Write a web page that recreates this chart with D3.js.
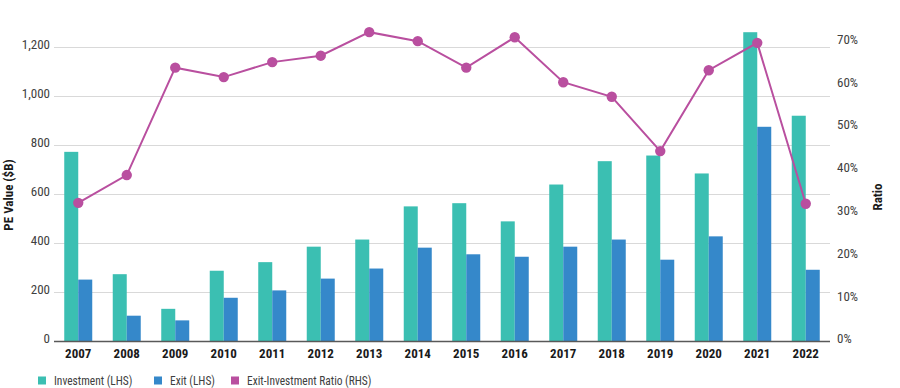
<!DOCTYPE html>
<html><head><meta charset="utf-8">
<script src="https://cdn.jsdelivr.net/npm/d3@7"></script>
<style>
body{margin:0;background:#fff;}
svg{display:block;}
text{font-family:"Liberation Sans Narrow","Roboto Condensed","Arial Narrow","Roboto",sans-serif;}
</style></head>
<body><svg id="c" width="900" height="388"></svg>
<script>
const years = ["2007","2008","2009","2010","2011","2012","2013","2014","2015","2016","2017","2018","2019","2020","2021","2022"];
const investment = [772, 274, 133, 288, 323, 386, 415, 550, 563, 489, 639, 734, 757, 684, 1259, 919];
const exitValues = [252, 105, 86, 178, 208, 256, 297, 382, 355, 345, 386, 415, 333, 428, 874, 292];
const ratio = [0.324, 0.389, 0.640, 0.618, 0.653, 0.668, 0.723, 0.702, 0.640, 0.711, 0.606, 0.572, 0.445, 0.634, 0.698, 0.322];
const leftTicks = [0, 200, 400, 600, 800, 1000, 1200];
const rightTicks = [0, 0.1, 0.2, 0.3, 0.4, 0.5, 0.6, 0.7];
const legendLabels = ["Investment (LHS)", "Exit (LHS)", "Exit-Investment Ratio (RHS)"];

const colors = {inv:"#3bbfb2", exit:"#3588ca", ratio:"#b94f9f"};
const svg = d3.select("#c");
const L = 54, R = 830, B = 341.5;

const x = d3.scaleBand().domain(years).range([L, R]).paddingInner(0.4227).paddingOuter(0.2113);
const xs = d3.scaleBand().domain(["inv","exit"]).range([0, x.bandwidth()]);
const y = d3.scaleLinear().domain([0, 1200]).range([B, 46.7]);
const y2 = d3.scaleLinear().domain([0, 0.7]).range([B, 42]);

// gridlines
svg.append("g").selectAll("line").data(leftTicks.slice(1)).join("line")
  .attr("x1", L).attr("x2", R)
  .attr("y1", d => Math.round(y(d)) + 0.5).attr("y2", d => Math.round(y(d)) + 0.5)
  .attr("stroke", "#d9d9d9").attr("stroke-width", 1);

// left axis
const gl = svg.append("g").attr("transform", `translate(${L - 4},0)`)
  .call(d3.axisLeft(y).tickValues(leftTicks).tickSize(0).tickPadding(0).tickFormat(d3.format(",")));
gl.select(".domain").remove();
gl.selectAll("text").attr("font-size", 13).attr("fill", "#404040").attr("dy", "0.1em");

// right axis
const gr = svg.append("g").attr("transform", `translate(${R + 7},0)`)
  .call(d3.axisRight(y2).tickValues(rightTicks).tickSize(0).tickPadding(0).tickFormat(d3.format(".0%")));
gr.select(".domain").remove();
gr.selectAll("text").attr("font-size", 13).attr("fill", "#404040").attr("dy", "0.1em");

// bars
const g = svg.append("g");
const grp = g.selectAll("g").data(years).join("g").attr("transform", d => `translate(${x(d)},0)`);
grp.append("rect").attr("x", xs("inv")).attr("width", xs.bandwidth())
  .attr("y", (d, i) => y(investment[i])).attr("height", (d, i) => B - y(investment[i]))
  .attr("fill", colors.inv);
grp.append("rect").attr("x", xs("exit")).attr("width", xs.bandwidth())
  .attr("y", (d, i) => y(exitValues[i])).attr("height", (d, i) => B - y(exitValues[i]))
  .attr("fill", colors.exit);

// baseline
svg.append("line").attr("x1", L).attr("x2", R).attr("y1", B).attr("y2", B)
  .attr("stroke", "#595959").attr("stroke-width", 1.5);

// x axis labels
const gx = svg.append("g").attr("transform", `translate(0,${B})`)
  .call(d3.axisBottom(x).tickSize(0).tickPadding(7));
gx.select(".domain").remove();
gx.selectAll("text").attr("font-size", 13).attr("font-weight", "bold").attr("fill", "#1a1a1a");

// ratio line
const cx = d => x(d) + x.bandwidth() / 2;
const line = d3.line().x((d, i) => cx(years[i])).y(d => y2(d));
svg.append("path").datum(ratio).attr("d", line).attr("fill", "none")
  .attr("stroke", colors.ratio).attr("stroke-width", 2);
svg.append("g").selectAll("circle").data(ratio).join("circle")
  .attr("cx", (d, i) => cx(years[i])).attr("cy", d => y2(d)).attr("r", 5.2)
  .attr("fill", colors.ratio);

// axis titles
svg.append("text").attr("transform", "translate(13,195) rotate(-90)")
  .attr("text-anchor", "middle").attr("font-size", 13).attr("font-weight", "bold")
  .attr("fill", "#1a1a1a").text("PE Value ($B)");
svg.append("text").attr("transform", "translate(882,197) rotate(-90)")
  .attr("text-anchor", "middle").attr("font-size", 13).attr("font-weight", "bold")
  .attr("fill", "#1a1a1a").text("Ratio");

// legend
const legX = [38, 154, 231];
const legC = [colors.inv, colors.exit, colors.ratio];
const lg = svg.append("g").selectAll("g").data(legendLabels).join("g")
  .attr("transform", (d, i) => `translate(${legX[i]},0)`);
lg.append("rect").attr("x", 0).attr("y", 376.5).attr("width", 8).attr("height", 8)
  .attr("fill", (d, i) => legC[i]);
lg.append("text").attr("transform", "translate(16,385) scale(0.88,1)").attr("font-size", 13)
  .attr("fill", "#404040").text(d => d);
</script></body></html>
